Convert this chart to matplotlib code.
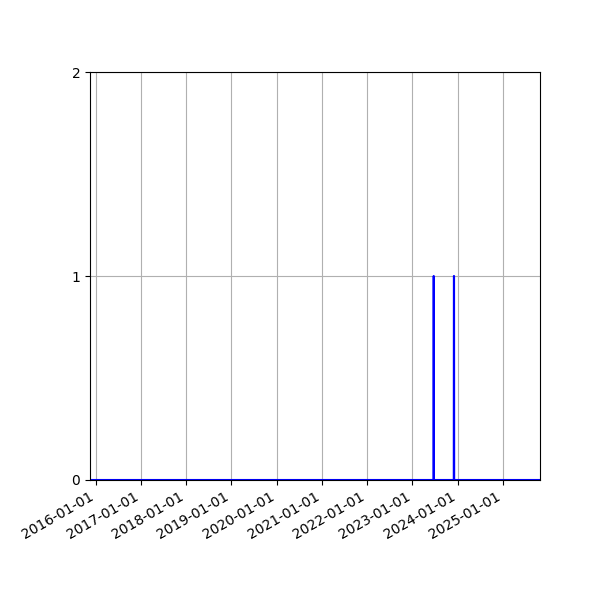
"""Daily event counts over time."""
import pandas as pd
import matplotlib
matplotlib.use("Agg")
import matplotlib.pyplot as plt
import matplotlib.dates as mdates

# date range covered by the daily series
start_date = "2015-11-16"
end_date = "2025-10-27"

# days with a non-zero count
event_dates = ["2023-06-22", "2023-12-02", "2023-12-03"]
event_counts = [1, 1, 1]


def build_series():
    """Daily counts, zero on days without events."""
    days = pd.date_range(start_date, end_date, freq="D")
    counts = pd.Series(0, index=days)
    for d, c in zip(event_dates, event_counts):
        counts[pd.Timestamp(d)] = c
    return counts


def main():
    counts = build_series()
    fig, ax = plt.subplots(figsize=(6, 6), dpi=100)
    ax.plot(counts.index, counts.values, color="blue")
    ax.set_xlim(counts.index[0], counts.index[-1])
    ax.set_ylim(0, 2)
    ax.set_yticks([0, 1, 2])
    ax.xaxis.set_major_locator(mdates.YearLocator())
    ax.xaxis.set_major_formatter(mdates.DateFormatter("%Y-%m-%d"))
    ax.grid(True)
    fig.autofmt_xdate()
    fig.subplots_adjust(left=0.15, right=0.9, top=0.88, bottom=0.2)
    fig.savefig("out.png")
    plt.close(fig)


if __name__ == "__main__":
    main()
